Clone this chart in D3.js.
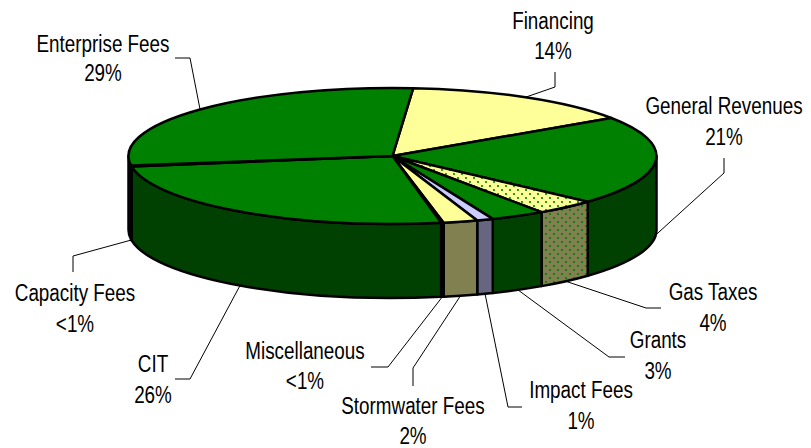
<!DOCTYPE html>
<html>
<head>
<meta charset="utf-8">
<script src="https://cdn.jsdelivr.net/npm/d3@7"></script>
<style>
  html, body { margin: 0; padding: 0; background: #ffffff; }
  svg { display: block; }
  text { font-family: "Liberation Sans", Arial, sans-serif; fill: #000; }
</style>
</head>
<body>
<svg id="chart" width="811" height="448"></svg>
<script>
// ---- data (clockwise from the top) ----
const categories = ["Financing", "General Revenues", "Gas Taxes", "Grants", "Impact Fees",
                    "Stormwater Fees", "Miscellaneous", "CIT", "Capacity Fees", "Enterprise Fees"];
const values = [14.3, 21.2, 3.7, 3.35, 1.0, 2.1, 0.15, 25.5, 0.2, 28.5];
const percentLabels = ["14%", "21%", "4%", "3%", "1%", "2%", "<1%", "26%", "<1%", "29%"];

// ---- styles ----
const topFills  = ["#FFFF99", "#008000", "url(#dotsTop)", "#008000", "#CCCCFF",
                   "#FFFF99", "#FFFF99", "#008000", "#008000", "#008000"];
const sideFills = ["#808050", "#004000", "url(#dotsSide)", "#004000", "#666680",
                   "#808050", "#808050", "#004000", "#004000", "#004000"];

// ---- label layout (positions only): label centre, baselines, leader elbow & end ----
const labelLayout = [
  { x: 553, y1: 29,  y2: 59,  elbow: [555, 87],  end: [555, 72]  },  // Financing
  { x: 724, y1: 114, y2: 145, elbow: [724, 173], end: [724, 158] },  // General Revenues
  { x: 713, y1: 300, y2: 331, elbow: [646, 308], end: [661, 308] },  // Gas Taxes
  { x: 658, y1: 348, y2: 379, elbow: [609, 357], end: [625, 357] },  // Grants
  { x: 581, y1: 398, y2: 429, elbow: [508, 407], end: [522, 407] },  // Impact Fees
  { x: 413, y1: 414, y2: 444, elbow: [413, 368], end: [413, 386] },  // Stormwater Fees
  { x: 305, y1: 359, y2: 389, elbow: [388, 367], end: [371, 367] },  // Miscellaneous
  { x: 153, y1: 372, y2: 403, elbow: [190, 379], end: [175, 379] },  // CIT
  { x: 75,  y1: 301, y2: 332, elbow: [73, 256],  end: [73, 272]  },  // Capacity Fees
  { x: 103, y1: 52,  y2: 81,  elbow: [190, 58],  end: [175, 58]  }   // Enterprise Fees
];

// ---- geometry ----
const cx = 392.5, cy = 156, rx = 264, ry = 68, depth = 74;
const startAngle = 4.5 * Math.PI / 180;

const svg = d3.select("#chart");
const defs = svg.append("defs");
function dotPattern(id, bg) {
  const p = defs.append("pattern").attr("id", id).attr("patternUnits", "userSpaceOnUse")
    .attr("width", 8).attr("height", 8);
  p.append("rect").attr("width", 8).attr("height", 8).attr("fill", bg);
  p.append("circle").attr("cx", 2).attr("cy", 2).attr("r", 1.1).attr("fill", "#008000");
  p.append("circle").attr("cx", 6).attr("cy", 6).attr("r", 1.1).attr("fill", "#008000");
}
dotPattern("dotsTop", "#FFFF99");
dotPattern("dotsSide", "#808050");

const pie = d3.pie().sort(null).value(d => d)
  .startAngle(startAngle).endAngle(startAngle + 2 * Math.PI);
const arcs = pie(values);

const pt = (a, dz = 0) => [cx + rx * Math.sin(a), cy - ry * Math.cos(a) + dz];
const fmt = p => p[0].toFixed(2) + "," + p[1].toFixed(2);

function topPath(d) {
  const p0 = pt(d.startAngle), p1 = pt(d.endAngle);
  const large = (d.endAngle - d.startAngle) > Math.PI ? 1 : 0;
  return `M${cx},${cy}L${fmt(p0)}A${rx},${ry} 0 ${large} 1 ${fmt(p1)}Z`;
}
function sidePath(d) {
  const b0 = Math.max(d.startAngle, Math.PI / 2);
  const b1 = Math.min(d.endAngle, 3 * Math.PI / 2);
  if (b1 <= b0) return null;
  return `M${fmt(pt(b0))}A${rx},${ry} 0 0 1 ${fmt(pt(b1))}` +
         `L${fmt(pt(b1, depth))}A${rx},${ry} 0 0 0 ${fmt(pt(b0, depth))}Z`;
}

const gPie = svg.append("g");
gPie.selectAll("path.side")
  .data(arcs.filter(d => sidePath(d) !== null))
  .join("path")
  .attr("class", "side")
  .attr("d", sidePath)
  .attr("fill", d => sideFills[d.index])
  .attr("stroke", "#000").attr("stroke-width", 2.5).attr("stroke-linejoin", "round");

gPie.selectAll("path.top")
  .data(arcs)
  .join("path")
  .attr("class", "top")
  .attr("d", topPath)
  .attr("fill", d => topFills[d.index])
  .attr("stroke", "#000").attr("stroke-width", 2.5).attr("stroke-linejoin", "round");

// ---- leader lines ----
function anchor(d) {
  const m = (d.startAngle + d.endAngle) / 2;
  return Math.cos(m) > 0 ? pt(m) : pt(m, depth);
}
const gLines = svg.append("g");
gLines.selectAll("polyline")
  .data(arcs)
  .join("polyline")
  .attr("points", d => {
    const L = labelLayout[d.index];
    return [anchor(d), L.elbow, L.end].map(fmt).join(" ");
  })
  .attr("fill", "none").attr("stroke", "#000").attr("stroke-width", 1);

// ---- labels ----
const gLab = svg.append("g");
arcs.forEach(d => {
  const L = labelLayout[d.index];
  [[categories[d.index], L.y1], [percentLabels[d.index], L.y2]].forEach(([t, y]) => {
    gLab.append("text")
      .attr("transform", `translate(${L.x},${y}) scale(0.82,1)`)
      .attr("text-anchor", "middle")
      .attr("font-size", 23)
      .text(t);
  });
});
</script>
</body>
</html>
